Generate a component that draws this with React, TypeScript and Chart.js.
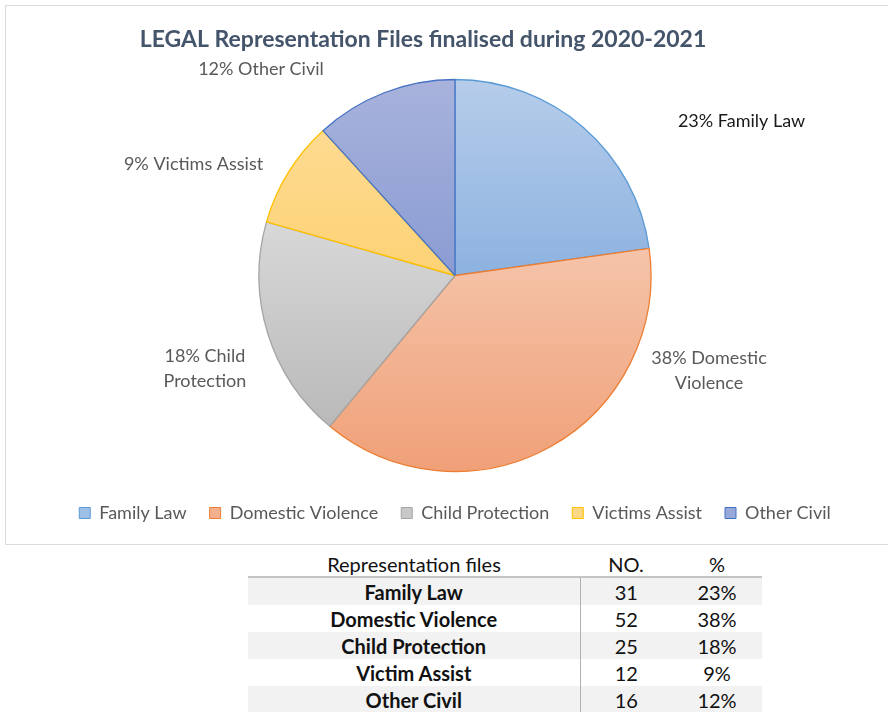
import React, { useEffect, useRef } from "react";
import { Chart, registerables } from "chart.js";

Chart.register(...registerables);

const chartTitle = "LEGAL Representation Files finalised during 2020-2021";
const categories = ["Family Law", "Domestic Violence", "Child Protection", "Victims Assist", "Other Civil"];
const fileCounts = [31, 52, 25, 12, 16];
const tableNames = ["Family Law", "Domestic Violence", "Child Protection", "Victim Assist", "Other Civil"];
const tableHeaders = ["Representation files", "NO.", "%"];
const labelFirstLineWords = [0, 2, 2, 0, 0];

const topColors = ["#b6cdea", "#f5c4aa", "#d8d8d8", "#fedb92", "#a8b2dc"];
const bottomColors = ["#8db2e0", "#f0a078", "#b9b9b9", "#fdd275", "#8a9cd3"];
const midColors = ["#9fc0e6", "#f2b08f", "#c8c8c8", "#fed784", "#98a8d8"];
const borderColors = ["#5b9bd5", "#ed7d31", "#a5a5a5", "#ffc000", "#4472c4"];
const labelColors = ["#1a1a1a", "#595959", "#595959", "#595959", "#595959"];

const total = fileCounts.reduce((a, b) => a + b, 0);
const pct = fileCounts.map((v) => Math.round((v / total) * 100));

const FONT = "Lato, 'Open Sans', sans-serif";
const PIE_RADIUS = 196;

function sliceGradient(ctx: any) {
  const chart = ctx.chart;
  const i = ctx.dataIndex;
  const area = chart.chartArea;
  if (!area || i === undefined) return midColors[i ?? 0];
  const cx = (area.left + area.right) / 2;
  const cy = (area.top + area.bottom) / 2;
  const r = Math.min(PIE_RADIUS, Math.min(area.right - area.left, area.bottom - area.top) / 2);
  let cum = 0;
  for (let k = 0; k < i; k++) cum += fileCounts[k];
  const a0 = -Math.PI / 2 + (2 * Math.PI * cum) / total;
  const a1 = a0 + (2 * Math.PI * fileCounts[i]) / total;
  const ys = [cy, cy + r * Math.sin(a0), cy + r * Math.sin(a1)];
  for (const t of [-Math.PI / 2, Math.PI / 2, (3 * Math.PI) / 2]) {
    if (t >= a0 && t <= a1) ys.push(cy + r * Math.sin(t));
  }
  const y0 = Math.min(...ys);
  const y1 = Math.max(...ys);
  const g = chart.ctx.createLinearGradient(0, y0, 0, y1 + 0.01);
  g.addColorStop(0, topColors[i]);
  g.addColorStop(1, bottomColors[i]);
  return g;
}

const labelOffsets = [
  [1.462, -0.786],
  [1.296, 0.487],
  [-1.276, 0.477],
  [-1.334, -0.566],
  [-0.99, -1.051],
];

const titlePlugin = {
  id: "customTitle",
  afterDraw(chart: any) {
    const { ctx, chartArea } = chart;
    ctx.save();
    ctx.font = `bold 23px ${FONT}`;
    ctx.fillStyle = "#44546a";
    ctx.textAlign = "center";
    ctx.textBaseline = "middle";
    ctx.fillText(chartTitle, (chartArea.left + chartArea.right) / 2 - 32, 34);
    ctx.restore();
  },
};

const labelPlugin = {
  id: "sliceLabels",
  afterDatasetsDraw(chart: any) {
    const { ctx } = chart;
    const meta = chart.getDatasetMeta(0);
    ctx.save();
    ctx.font = `18px ${FONT}`;
    ctx.textAlign = "center";
    ctx.textBaseline = "middle";
    meta.data.forEach((arc: any, i: number) => {
      const { x, y, outerRadius } = arc.getProps(["x", "y", "outerRadius"], true);
      const words = `${pct[i]}% ${categories[i]}`.split(" ");
      const n = labelFirstLineWords[i];
      const lines = n > 0 ? [words.slice(0, n).join(" "), words.slice(n).join(" ")] : [words.join(" ")];
      const lx = x + labelOffsets[i][0] * outerRadius;
      const ly = y + labelOffsets[i][1] * outerRadius;
      const lh = 25;
      ctx.fillStyle = labelColors[i];
      lines.forEach((ln, j) => {
        ctx.fillText(ln, lx, ly + (j - (lines.length - 1) / 2) * lh);
      });
    });
    ctx.restore();
  },
};

function PieChart() {
  const ref = useRef<HTMLCanvasElement | null>(null);
  useEffect(() => {
    if (!ref.current) return;
    const chart = new Chart(ref.current, {
      type: "pie",
      data: {
        labels: categories,
        datasets: [
          {
            data: fileCounts,
            backgroundColor: sliceGradient as any,
            borderColor: borderColors,
            borderWidth: 1.3,
            radius: PIE_RADIUS,
          },
        ],
      },
      options: {
        animation: false,
        responsive: false,
        maintainAspectRatio: false,
        layout: { padding: { top: 64, bottom: 12 } },
        plugins: {
          title: { display: false },
          tooltip: { enabled: false },
          legend: {
            position: "bottom",
            labels: {
              boxWidth: 11,
              boxHeight: 11,
              padding: 23,
              color: "#595959",
              font: { family: FONT, size: 18 },
              generateLabels: () =>
                categories.map((c, i) => ({
                  text: c,
                  fillStyle: midColors[i],
                  strokeStyle: borderColors[i],
                  lineWidth: 1,
                  index: i,
                  hidden: false,
                  fontColor: "#595959",
                })),
            },
          },
        },
      },
      plugins: [titlePlugin, labelPlugin],
    });
    return () => chart.destroy();
  }, []);
  return <canvas ref={ref} width={898} height={538} style={{ display: "block", width: 898, height: 538 }} />;
}

const cellBase: React.CSSProperties = {
  padding: 0,
  height: 27,
  textAlign: "center",
  verticalAlign: "middle",
};

export default function App() {
  return (
    <div
      style={{
        position: "absolute",
        left: 0,
        top: 0,
        width: 888,
        height: 712,
        overflow: "hidden",
        background: "#ffffff",
        fontFamily: FONT,
      }}
    >
      <div
        style={{
          position: "absolute",
          left: 5,
          top: 5,
          width: 898,
          height: 538,
          border: "1px solid #dcdcdc",
          background: "#ffffff",
        }}
      >
        <PieChart />
      </div>
      <table
        style={{
          position: "absolute",
          left: 248,
          top: 552,
          width: 514,
          borderCollapse: "collapse",
          fontSize: 20,
          color: "#111",
        }}
      >
        <thead>
          <tr>
            {tableHeaders.map((h, i) => (
              <th
                key={h}
                style={{
                  ...cellBase,
                  height: 24,
                  fontWeight: "normal",
                  width: i === 0 ? 332 : i === 1 ? 92 : 90,
                  borderBottom: "2px solid #c4c4c4",
                }}
              >
                {h}
              </th>
            ))}
          </tr>
        </thead>
        <tbody>
          {tableNames.map((name, i) => (
            <tr key={name} style={{ background: i % 2 === 0 ? "#f2f2f2" : "#ffffff" }}>
              <td style={{ ...cellBase, fontWeight: "bold", borderRight: "1px solid #b0b0b0" }}>{name}</td>
              <td style={cellBase}>{fileCounts[i]}</td>
              <td style={cellBase}>{pct[i]}%</td>
            </tr>
          ))}
        </tbody>
      </table>
    </div>
  );
}
